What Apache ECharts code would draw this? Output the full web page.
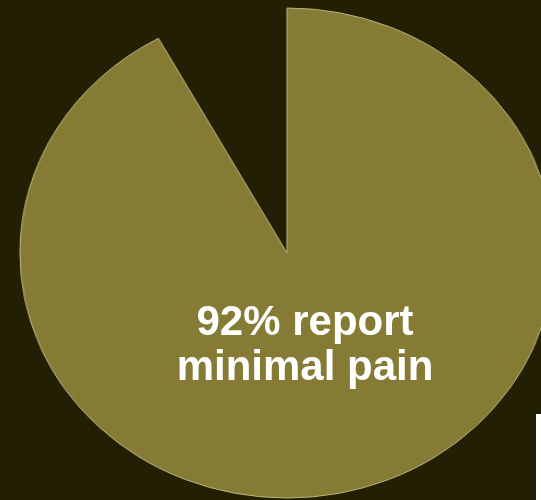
<!DOCTYPE html>
<html>
<head>
<meta charset="utf-8">
<script src="https://cdn.jsdelivr.net/npm/echarts@6/dist/echarts.min.js"></script>
<style>
html,body{margin:0;padding:0;background:#231f05;overflow:hidden;}
#pie{position:absolute;left:0;top:0;width:541px;height:500px;transform:scaleX(1.09);transform-origin:287px 0;}
#txt{position:absolute;left:0;top:0;width:541px;height:500px;}
</style>
</head>
<body>
<div id="pie"></div>
<div id="txt"></div>
<script>
var categories = ['Minimal pain', 'Other'];
var values = [92, 8];
var labelLines = ['92% report', 'minimal pain'];

var pie = echarts.init(document.getElementById('pie'), null, {renderer: 'canvas'});
pie.setOption({
  backgroundColor: 'transparent',
  animation: false,
  series: [{
    type: 'pie',
    center: [287, 253],
    radius: [0, 245],
    startAngle: 90,
    clockwise: true,
    label: {show: false},
    labelLine: {show: false},
    emphasis: {disabled: true},
    data: categories.map(function (c, i) {
      return {
        name: c,
        value: values[i],
        itemStyle: i === 0
          ? {color: '#857b35', borderColor: '#bdb67c', borderWidth: 1}
          : {color: 'rgba(0,0,0,0)', borderWidth: 0}
      };
    })
  }]
});

var txt = echarts.init(document.getElementById('txt'));
txt.setOption({
  backgroundColor: 'transparent',
  animation: false,
  graphic: [
    {type: 'text', left: null, x: 305, y: 323, style: {text: labelLines[0], fill: '#ffffff', font: 'bold 42px "Liberation Sans", Arial, sans-serif', textAlign: 'center', textVerticalAlign: 'middle'}},
    {type: 'text', x: 305, y: 368, style: {text: labelLines[1], fill: '#ffffff', font: 'bold 42px "Liberation Sans", Arial, sans-serif', textAlign: 'center', textVerticalAlign: 'middle'}},
    {type: 'rect', shape: {x: 536, y: 414, width: 5, height: 86}, style: {fill: '#ffffff'}}
  ]
});
</script>
</body>
</html>
